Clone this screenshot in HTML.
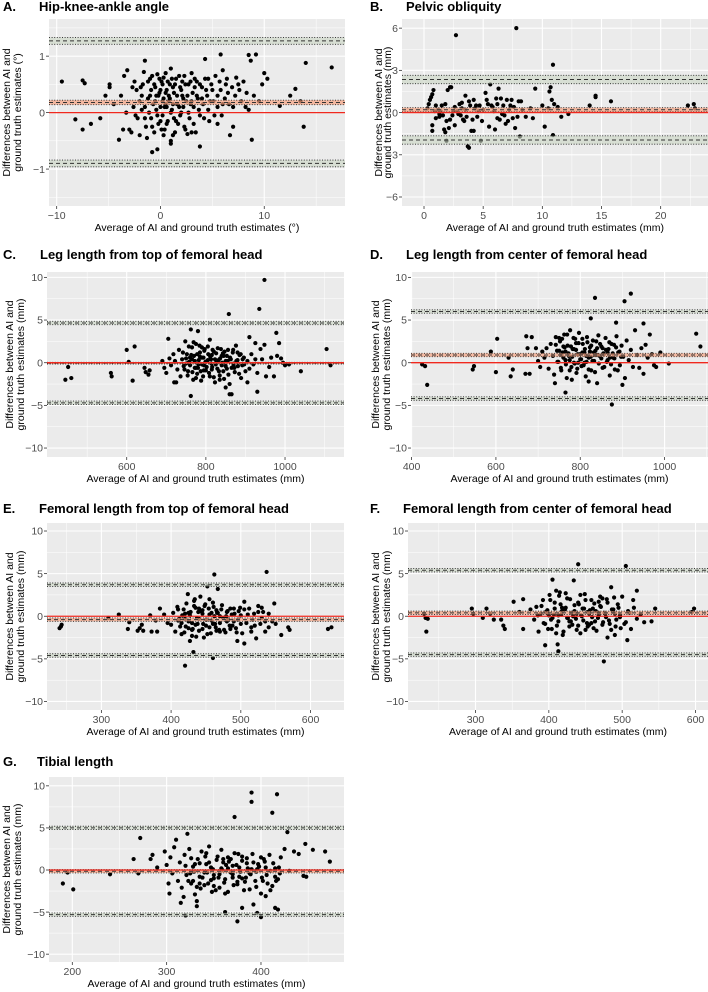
<!DOCTYPE html>
<html><head><meta charset="utf-8">
<style>
html,body{margin:0;padding:0;background:#fff;}
svg{display:block;font-family:"Liberation Sans",sans-serif;}
</style></head>
<body>
<svg id="fig" width="708" height="992" viewBox="0 0 708 992" xmlns="http://www.w3.org/2000/svg"></svg>
<script>
// ---- Data ----
const aPts=[[-9.5,0.55],[-7.5,0.57],[-7.3,0.52],[-8.2,-0.12],[-7.5,-0.3],[-6.7,-0.2],[-5.8,-0.1],[-5.3,0.3],[-4.9,0.5],[-4.9,0.45],[-4,-0.48],[-1.5,0.92],[-0.8,-0.7],[-0.3,-0.65],[4.3,0.95],[5.8,1.03],[8.5,1.02],[9.2,1.03],[8.7,0.92],[14,0.88],[16.5,0.8],[13.8,-0.25],[8.8,-0.48],[3.8,-0.6],[13,0.42],[13.5,0.2],[12.5,0.3],[11.5,0.12],[10,0.7],[10.3,0.6],[6.7,-0.4],[7,-0.25],[5.5,-0.2],[1,-0.5],[1,-0.55],
[-3.5,0.65],[-3.2,0.75],[-3,-0.3],[-2.8,-0.35],[-2.5,0.55],[-2.3,0.4],[-2.2,-0.1],[-2,-0.4],[-1.8,0.3],[-1.6,0.72],[-1.5,0.1],[-1.4,-0.25],[-1.2,0.55],[-1,0.3],[-0.9,-0.1],[-0.8,0.65],[-0.7,0.15],[-0.6,-0.35],[-0.5,0.45],[-0.4,0.05],[-0.3,0.68],[-0.2,-0.2],[-0.1,0.35],[0,0.1],[0.1,0.55],[0.2,-0.05],[0.3,0.25],[0.4,-0.3],[0.5,0.7],[0.6,0.4],[0.7,-0.15],[0.8,0.2],[0.9,0.5],[1,0.78],[1.1,0.05],[1.2,-0.4],[1.3,0.35],[1.5,0.6],[1.6,0.15],[1.7,-0.2],[1.9,0.45],[2,0.0],[2.1,0.3],[2.3,0.65],[2.4,-0.3],[2.5,0.2],[2.7,0.5],[2.8,-0.1],[3,0.7],[3.1,0.35],[3.2,0.1],[3.4,-0.35],[3.5,0.55],[3.6,0.25],[3.8,-0.05],[4,0.45],[4.1,0.15],[4.3,0.6],[4.5,0.3],[4.7,-0.15],[4.9,0.5],[5.1,0.2],[5.3,0.65],[5.5,0.1],[5.8,0.4],[6,0.75],[6.2,0.25],[6.4,0.6],[6.6,0.15],[6.9,0.45],[7.2,0.3],[7.5,0.5],[7.8,0.2],[8,0.55],[8.3,0.35],[8.5,0.05],[9,0.3],[9.5,0.2],[9.8,0.5],[-4.5,0.15],[-3.8,0.3],[-3.6,-0.3],[-2.6,0.1],[-1.3,-0.45],[0.3,-0.4],[1.4,-0.35],[2.6,-0.38],[3,-0.35],[-0.5,0.2],[0.8,0.3],[1.8,0.1],[2.2,0.25],[0,-0.15],[-1.8,0.05],[4.6,0.05],[5.9,-0.05],[3.3,0.45],[-0.2,0.3],[0.5,0.15],[1.2,0.45],[-1.1,0.0],[2.9,0.15],[0.2,0.5],[-2.4,-0.05],[6.3,0.5],[7.3,0.62],[-1.9,0.45]];
const aDense=[[-2,0.2],[-1.7,0.5],[-1.5,-0.1],[-1.2,0.25],[-1,0.6],[-0.8,-0.25],[-0.6,0.5],[-0.4,0.3],[-0.3,-0.05],[-0.1,0.6],[0,0.4],[0.1,-0.3],[0.2,0.2],[0.3,0.62],[0.4,0.1],[0.5,0.35],[0.6,-0.2],[0.7,0.55],[0.9,0.25],[1,0.0],[1.1,0.6],[1.2,0.15],[1.4,0.5],[1.5,-0.15],[1.6,0.3],[1.8,0.65],[1.9,-0.05],[2,0.4],[2.2,0.1],[2.3,-0.25],[2.4,0.5],[2.6,0.3],[2.7,0.0],[2.9,0.55],[3,0.2],[3.2,-0.2],[3.3,0.6],[3.5,0.3],[3.7,0.05],[3.8,0.5],[4,0.25],[4.2,-0.1],[4.4,0.4],[4.6,0.6],[4.8,0.2],[5,0.4],[5.2,-0.05],[5.5,0.3],[5.7,0.55],[6,0.15],[6.5,0.35],[7,0.1],[7.6,0.4],[8.2,0.1],[-2.7,0.45],[-3.3,0.0],[-0.9,0.4],[0.6,0.1],[1.3,-0.1],[2.1,0.55]];
const bPts=[[2.7,5.5],[7.8,6],[10.9,3.4],[0.3,0.3],[0.4,0.6],[0.5,0.9],[0.6,1.1],[0.7,1.3],[0.8,1.6],[0.7,-0.9],[0.7,-1.3],[1,-0.4],[1.2,0.2],[1.4,0.1],[1.5,0.5],[1.6,-0.2],[1.8,0.6],[1.9,-0.6],[2,1.6],[2.1,-1.1],[2.2,1.8],[2.3,1.8],[2.4,-0.2],[2.6,-0.9],[2.8,0.1],[3,0.6],[3.2,0.7],[3.3,-0.5],[3.5,1.2],[3.6,-0.3],[3.7,-2.4],[3.8,-2.5],[3.9,0.5],[4,-1.3],[4.2,-1.3],[4.3,0.3],[4.5,-0.3],[4.7,0.5],[4.9,-0.6],[5.2,1.4],[5.3,0.9],[5.5,-1],[5.6,2],[5.8,0.4],[6,-1.2],[6.1,1.0],[6.3,1.7],[6.4,-0.5],[6.5,1.0],[6.7,0.5],[6.9,-0.8],[7,0.9],[7.2,0.2],[7.4,0.9],[7.5,-0.4],[7.7,-1.1],[8,0.8],[8.1,-1.7],[8.2,0.8],[8.6,-0.3],[9.2,-0.4],[9.4,1.7],[10,0.5],[10.2,-1],[10.7,1.8],[10.6,1.5],[10.8,0.9],[10.9,-1.6],[11,0.6],[11.6,-0.3],[12.2,-0.1],[14,0.5],[14.5,1.1],[14.5,1.2],[15.8,0.8],[22.3,0.5],[22.8,0.6],[22.9,0.3],[5,0.2],[4.4,0.5],[3.1,-0.2],[2.5,0.1],[1.7,-1.2],[1.8,-1.4],[7.6,0.4],[6.8,-0.2],[8.3,0.2],[9,0.3],[5.9,0.1],[4.8,-2],[1.9,-2.0],[3.2,0.3],[3.4,-0.6],[2.9,-0.1],[6.2,0.6],[7.1,-0.6],[1.3,-0.1],[0.9,0.1],[10.5,0.3],[11.3,0.4]];
const bDense=[[1,0.5],[1.3,-0.3],[2.6,0.4],[3.5,0.2],[4.1,-0.5],[4.6,0.1],[5.4,0.6],[6.6,-0.1],[7.3,0.5],[3.8,0.8],[2.2,-0.5],[6.2,-0.4],[5.7,0.5],[7.9,-0.3],[4.2,0.9]];
const cPts=[[445,-2],[452,-0.5],[460,-1.8],[560,-1.2],[562,-1.6],[600,1.5],[605,0.1],[615,-2.1],[620,1.9],[645,-0.6],[648,-1.1],[655,-1.4],[658,-0.9],[705,2.8],[720,-2.3],[725,-2.3],[762,3.9],[762,-3.9],[858,5.7],[935,6.3],[948,9.7],[930,-3.4],[860,-3.7],[865,-3.7],[910,3.0],[978,3.5],[1105,1.6],[1115,-0.3],[1040,-1],[1010,-0.2],[1000,-0.3],[780,3.7],[905,-2.3],[850,-2.9],
[690,0.2],[695,-0.6],[700,-1.2],[708,0.5],[712,-0.3],[718,1.0],[722,0.2],[728,-0.8],[732,1.5],[736,-1.6],[740,0.4],[744,-0.4],[748,2.5],[752,1.0],[755,-1.0],[758,0.1],[765,1.8],[768,-2.0],[770,0.8],[772,-0.6],[775,2.2],[778,-1.3],[782,0.3],[785,1.2],[788,-2.1],[790,-0.2],[794,0.6],[797,1.6],[800,-0.9],[803,0.2],[806,1.0],[810,-1.6],[813,0.4],[816,-0.5],[820,1.3],[823,-2.3],[826,0.0],[830,1.7],[833,-1.0],[836,0.5],[840,-0.3],[843,1.1],[846,-1.9],[850,0.2],[853,-0.7],[856,1.5],[860,-2.5],[863,0.4],[868,1.2],[872,-0.6],[876,2.0],[880,0.3],[884,-1.3],[888,1.0],[892,-0.3],[896,0.6],[900,-1.0],[905,0.2],[910,-0.7],[915,1.0],[920,-0.2],[925,2.3],[930,-1.2],[938,1.6],[942,0.4],[948,2.1],[952,-1.6],[960,-0.5],[965,0.6],[972,-1.6],[980,0.8],[985,2.3],[990,0.5],[995,0.0],[760,0.6],[795,-0.3],[815,0.9],[845,0.8],[870,-0.1],[790,1.8],[810,2.7],[835,-1.5],[780,-0.6],[750,-0.1],[925,0.4]];
const cDense=[[742,1.2],[746,-0.8],[750,0.5],[754,-1.5],[757,1.9],[760,-0.3],[763,0.9],[766,-1.1],[769,2.4],[772,0.2],[775,-1.8],[778,1.0],[781,-0.2],[784,2.0],[787,-1.0],[790,0.6],[793,-1.6],[796,1.4],[799,0.1],[802,-0.5],[805,1.9],[808,-1.2],[811,0.7],[814,-0.1],[817,1.5],[820,-1.7],[823,0.4],[826,1.1],[829,-0.7],[832,0.3],[835,-2.0],[838,1.6],[841,0.0],[844,-1.0],[847,1.3],[850,-0.4],[853,0.8],[857,-1.4],[861,0.6],[865,-0.6],[869,1.5],[873,-1.1],[877,0.2],[881,-0.4],[885,0.9],[889,-1.8],[893,0.4],[897,-0.2],[755,0.0],[765,0.4],[775,-0.6],[785,0.7],[795,-0.9],[805,0.3],[815,-0.8],[825,-0.2],[840,0.8],[855,0.2],[870,-0.3],[880,1.2]];
const dPts=[[425,-0.2],[432,-0.4],[437,-2.6],[545,-0.8],[548,-0.4],[588,1.3],[600,-1.1],[603,2.8],[630,0.6],[635,-1.6],[640,-0.8],[672,3.1],[685,3.0],[835,7.6],[920,8.1],[905,7.2],[825,5.2],[765,-3.5],[875,-4.9],[900,-2.6],[1075,3.4],[1085,1.9],[1010,-0.1],[950,4.6],[885,4.7],[980,-0.5],[740,-2.4],[670,-1.3],[675,1.7],[680,-1.3],
[695,1.7],[700,0.2],[705,-0.5],[710,1.3],[715,0.6],[720,1.7],[725,-0.7],[730,2.2],[735,0.8],[738,-1.4],[742,3.0],[745,1.4],[748,0.1],[752,2.5],[755,-0.9],[758,1.2],[762,3.3],[765,0.3],[768,-1.8],[770,2.0],[773,0.8],[776,3.8],[779,-0.5],[782,1.6],[785,0.0],[788,2.8],[791,-1.2],[794,1.0],[797,3.5],[800,0.4],[803,-0.4],[806,2.2],[810,1.2],[813,-1.6],[816,3.0],[820,0.6],[823,1.8],[826,-0.9],[830,2.6],[833,0.2],[836,1.4],[840,-2.4],[843,3.2],[846,0.8],[850,1.9],[853,-0.6],[856,1.0],[860,2.9],[863,0.1],[867,1.6],[870,-1.5],[874,2.2],[878,0.6],[882,-0.8],[886,3.1],[890,1.2],[894,-0.3],[898,2.0],[902,0.7],[906,-1.8],[910,2.6],[915,0.3],[920,1.5],[925,-0.5],[930,3.8],[935,0.9],[940,-0.6],[945,1.7],[950,-1.3],[955,2.1],[960,0.6],[965,3.3],[970,1.0],[975,-0.3],[990,1.2],[760,1.9],[790,2.3],[810,0.0],[835,0.9],[780,-2.0],[750,2.9],[820,-2.2],[865,1.2]];
const dDense=[[742,2.1],[746,0.1],[750,1.4],[754,-0.6],[757,2.8],[760,0.6],[763,1.8],[766,-0.2],[769,3.3],[772,1.1],[775,-0.9],[778,1.9],[781,0.7],[784,2.9],[787,-0.1],[790,1.5],[793,-0.7],[796,2.3],[799,1.0],[802,0.4],[805,2.8],[808,-0.3],[811,1.6],[814,0.8],[817,2.4],[820,-0.8],[823,1.3],[826,2.0],[829,0.2],[832,1.2],[835,-1.1],[838,2.5],[841,0.9],[844,-0.1],[847,2.2],[850,0.5],[853,1.7],[857,-0.5],[861,1.5],[865,0.3],[869,2.4],[873,-0.2],[877,1.1],[881,0.5],[885,1.8],[889,-0.9],[893,1.3],[897,0.7],[755,0.9],[765,1.3],[775,0.3],[785,1.6],[795,0.0],[805,1.2],[815,0.1],[825,0.7],[840,1.7],[855,1.1],[870,0.6],[880,2.1]];
const ePts=[[240,-1.4],[242,-1.2],[243,-1],[310,-0.2],[325,0.2],[338,-1.5],[340,-0.7],[352,-1.7],[355,-1.4],[358,-1],[360,-1.7],[372,-1.8],[380,-1.8],[378,-0.5],[384,0.9],[420,-5.8],[432,-4.2],[462,4.9],[460,-4.9],[537,5.2],[467,3.2],[452,3.5],[625,-1.5],[630,-1.3],[570,-1.6],[568,-1.3],[558,-2.2],[548,1.5],[505,-3.2],[495,-2.9],[427,-2.9],[370,0.1],[390,0.2],[395,-0.8],
[400,-1.0],[403,0.4],[406,-1.8],[409,1.1],[412,-0.3],[415,-2.1],[418,0.8],[421,-1.2],[424,2.6],[427,0.1],[430,-0.8],[433,1.8],[436,-2.4],[439,0.5],[442,2.3],[445,-1.5],[448,1.2],[451,-0.4],[454,0.9],[457,-2.0],[460,1.6],[463,-0.9],[466,0.4],[469,-1.6],[472,0.8],[475,-0.2],[478,-1.9],[481,0.6],[484,-1.1],[487,0.2],[490,0.9],[493,-1.4],[496,-0.4],[499,1.0],[502,-2.0],[505,1.7],[508,-0.8],[512,0.9],[515,-1.3],[519,0.3],[522,-2.6],[525,1.2],[528,-0.9],[532,0.5],[535,-1.8],[540,0.3],[545,-0.6],[550,-0.9],[420,0.3],[430,-1.6],[440,-0.3],[450,-1.1],[455,2.0],[470,0.0],[480,-0.6],[445,0.7],[425,-1.4],[435,1.0],[465,-1.7],[410,-0.5],[500,0.1],[517,-0.4],[530,1.0],[438,-0.9],[458,0.4]];
const eDense=[[410,0.8],[413,-1.2],[416,0.1],[419,-1.9],[422,1.5],[425,-0.6],[428,0.5],[431,-1.5],[434,2.0],[437,-0.2],[440,-1.7],[443,0.6],[446,-0.9],[449,1.4],[452,-2.1],[455,0.2],[458,-0.5],[461,1.1],[464,-1.3],[467,0.4],[470,-0.8],[473,1.3],[476,-1.6],[479,0.0],[482,-0.4],[485,0.9],[488,-1.1],[491,0.3],[494,-1.9],[497,0.6],[415,-0.8],[425,0.4],[435,-1.0],[445,0.3],[455,-1.3],[465,0.7],[475,-0.2],[485,-1.5],[420,-0.3],[440,0.9],[460,-0.9],[480,0.5],[430,-2.3],[450,-0.4],[470,-1.8],[490,-0.6],[433,1.2],[447,-2.5],[462,0.0],[500,-0.9],[510,0.2],[520,-1.1],[530,-0.2],[540,-1.3],[505,0.8],[515,-1.8],[525,0.5],[535,-0.6]];
const fPts=[[230,0.3],[232,-0.2],[235,-0.3],[233,-1.8],[295,0.9],[297,0.3],[310,-0.2],[315,0.9],[320,0.3],[325,-0.4],[335,-0.4],[338,-1.1],[340,-1.5],[352,1.7],[360,0.5],[365,2.0],[365,-1.5],[395,-3.4],[405,4.3],[412,-3.3],[413,-4.1],[440,6.1],[505,5.9],[507,-2.8],[475,-5.3],[520,3.0],[540,-0.6],[545,0.9],[595,0.5],[598,0.9],[480,-2.5],[490,-2.2],[375,0.8],[380,-0.4],
[383,1.1],[386,-1.8],[389,0.3],[392,1.9],[395,-0.9],[398,0.7],[401,2.5],[404,-1.5],[407,0.2],[410,3.0],[413,-0.6],[416,1.4],[419,-2.2],[422,0.8],[425,2.1],[428,-1.2],[431,0.4],[434,4.2],[437,-0.3],[440,1.6],[443,-2.0],[446,0.9],[449,2.6],[452,-0.8],[455,0.3],[458,1.9],[461,-1.4],[464,0.6],[467,-0.2],[470,1.2],[473,-1.0],[476,0.4],[479,2.0],[482,-0.5],[485,3.4],[488,0.8],[491,-1.2],[494,1.4],[497,-0.1],[500,2.3],[503,-0.9],[508,0.6],[512,-1.5],[516,1.0],[520,-0.3],[525,0.2],[530,-0.7],[400,0.1],[418,1.0],[430,-0.6],[445,0.0],[460,0.9],[425,-0.2],[450,-1.6],[470,2.3],[410,-2.0],[435,1.3],[455,-1.0],[490,0.3],[415,2.8],[440,-1.1],[498,-1.4],[468,0.1]];
const fDense=[[390,1.2],[393,-0.8],[396,0.5],[399,-1.5],[402,1.9],[405,-0.2],[408,0.9],[411,-1.1],[414,2.4],[417,0.2],[420,-1.8],[423,1.0],[426,-0.2],[429,2.0],[432,-1.0],[435,0.6],[438,-1.6],[441,1.4],[444,0.1],[447,-0.5],[450,1.9],[453,-1.2],[456,0.7],[459,-0.1],[462,1.5],[465,-1.7],[468,0.4],[471,1.1],[474,-0.7],[477,0.3],[480,1.6],[483,-0.9],[486,0.8],[489,2.2],[492,-0.4],[495,1.0],[398,0.4],[408,1.6],[418,0.6],[428,-0.6],[438,0.3],[448,0.9],[458,-0.8],[468,1.7],[478,-0.1],[488,0.5],[403,-0.4],[413,0.1],[423,2.7],[433,0.0],[443,2.5],[453,0.5],[463,-0.6],[473,2.1],[485,-1.6],[497,0.1],[510,0.4],[515,1.9],[505,-0.7],[385,0.1]];
const gPts=[[190,-1.6],[195,-0.3],[201,-2.3],[240,-0.5],[265,1.3],[272,3.8],[270,-0.4],[283,1.3],[285,1.8],[290,0.3],[298,2.2],[302,-1.6],[303,-2.8],[310,3.6],[315,-3.9],[318,-3.2],[322,4.3],[320,-5.4],[332,-4.3],[332,-3.7],[372,6.3],[390,9.2],[390,8.1],[412,6.8],[417,9.0],[375,-6.1],[380,-4.5],[362,-5],[392,-4.1],[396,-5.1],[400,-5.6],[415,-4.5],[418,-4.7],[428,4.5],[447,3.1],[455,2.4],[468,2.2],[473,1.0],[435,2.2],[445,-0.7],[448,-0.8],[440,1.9],[430,-0.1],[425,2.5],
[300,0.6],[304,1.5],[306,-0.4],[308,2.7],[312,-1.3],[314,0.9],[316,-2.1],[319,1.8],[321,-0.6],[324,2.5],[326,-1.6],[328,0.4],[330,-2.9],[333,1.3],[335,-0.8],[337,2.2],[340,-1.8],[342,0.7],[345,2.8],[347,-1.2],[349,0.1],[352,-2.4],[354,1.6],[356,-0.5],[358,2.4],[361,-1.5],[363,0.6],[365,-2.6],[368,1.3],[370,-0.9],[372,2.0],[375,-1.7],[377,0.3],[380,1.6],[382,-2.4],[385,0.8],[388,-0.4],[391,1.9],[394,-1.3],[397,0.7],[400,-2.8],[403,1.3],[406,-0.6],[409,1.8],[412,-1.9],[415,0.2],[418,-1.1],[421,1.5],[343,-0.3],[358,0.2],[366,1.0],[384,-0.9],[396,0.1],[350,-1.0],[328,-1.3],[360,0.9],[378,-0.2],[405,-3.1],[336,-2.2],[370,0.5]];
const gDense=[[320,0.5],[323,-1.3],[326,1.4],[329,-0.2],[332,-2.0],[335,0.8],[338,-0.9],[341,1.6],[344,-1.6],[347,0.3],[350,-0.6],[353,1.2],[356,-2.1],[359,0.0],[362,-1.1],[365,1.5],[368,-0.3],[371,-1.8],[374,0.6],[377,-0.8],[380,1.1],[383,-1.4],[386,0.2],[389,-0.5],[392,0.9],[395,-2.0],[398,0.4],[401,-0.9],[404,1.0],[407,-1.6],[410,-0.1],[413,0.8],[416,-1.3],[419,0.3],[325,-0.4],[335,-1.6],[345,0.9],[355,-0.9],[365,0.2],[375,-1.4],[385,1.4],[395,-0.2],[405,0.3],[415,-0.8],[330,0.7],[340,-0.3],[350,-1.9],[360,1.3],[370,-0.5],[380,-1.0],[390,0.1],[400,1.5],[410,-2.4],[420,-0.4],[348,-2.6],[362,-2.8],[376,1.9],[388,-2.3],[402,-1.3],[342,2.0]];

// ---- Panel specs ----
const panels=[
 {id:'a',letter:'A.',title:'Hip-knee-ankle angle',pts:aPts.concat(aDense),L:49,R:345,T:19,B:206,x0:-10.74,x1:17.78,y0:-1.654,y1:1.658,
  xt:[-10,0,10],xm:[-5,5,15],yt:[-1,0,1],ym:[-1.5,-0.5,0.5,1.5],mean:[0.14,0.18,0.22],up:[1.21,1.27,1.33],lo:[-0.96,-0.90,-0.84],
  xlab:'Average of AI and ground truth estimates (°)',ylab2:'ground truth estimates (°)',yt1:7,yt2:18,lx:3,tx:39,ty:11},
 {id:'b',letter:'B.',title:'Pelvic obliquity',pts:bPts.concat(bDense),L:402,R:708,T:19,B:206,x0:-1.86,x1:24.0,y0:-6.64,y1:6.65,
  xt:[0,5,10,15,20],xm:[2.5,7.5,12.5,17.5,22.5],yt:[-6,-3,0,3,6],ym:[-4.5,-1.5,1.5,4.5],mean:[0.05,0.2,0.35],up:[2.05,2.35,2.65],lo:[-2.25,-1.95,-1.65],
  xlab:'Average of AI and ground truth estimates (mm)',ylab2:'ground truth estimates (mm)',yt1:379,yt2:388,lx:370,tx:406,ty:11},
 {id:'c',letter:'C.',title:'Leg length from top of femoral head',pts:cPts.concat(cDense),L:47,R:344,T:272,B:457,x0:398.6,x1:1149,y0:-11.05,y1:10.63,
  xt:[600,800,1000],xm:[500,700,900,1100],yt:[-10,-5,0,5,10],ym:[-7.5,-2.5,2.5,7.5],mean:[-0.15,-0.05,0.05],up:[4.45,4.65,4.85],lo:[-4.9,-4.7,-4.5],
  xlab:'Average of AI and ground truth estimates (mm)',ylab2:'ground truth estimates (mm)',yt1:10,yt2:21,lx:3,tx:40,ty:259},
 {id:'d',letter:'D.',title:'Leg length from center of femoral head',pts:dPts.concat(dDense),L:411,R:708,T:272,B:457,x0:398.6,x1:1103,y0:-11.05,y1:10.63,
  xt:[400,600,800,1000],xm:[500,700,900,1100],yt:[-10,-5,0,5,10],ym:[-7.5,-2.5,2.5,7.5],mean:[0.7,0.9,1.1],up:[5.8,6.0,6.2],lo:[-4.4,-4.2,-4.0],
  xlab:'Average of AI and ground truth estimates (mm)',ylab2:'ground truth estimates (mm)',yt1:376,yt2:387,lx:370,tx:406,ty:259},
 {id:'e',letter:'E.',title:'Femoral length from top of femoral head',pts:ePts.concat(eDense),L:47,R:344,T:523,B:710,x0:222,x1:648,y0:-11.0,y1:10.94,
  xt:[300,400,500,600],xm:[250,350,450,550,650],yt:[-10,-5,0,5,10],ym:[-7.5,-2.5,2.5,7.5],mean:[-0.6,-0.4,-0.2],up:[3.5,3.7,3.9],lo:[-4.8,-4.6,-4.4],
  xlab:'Average of AI and ground truth estimates (mm)',ylab2:'ground truth estimates (mm)',yt1:10,yt2:21,lx:3,tx:39,ty:513},
 {id:'f',letter:'F.',title:'Femoral length from center of femoral head',pts:fPts.concat(fDense),L:408,R:708,T:523,B:710,x0:208,x1:617,y0:-11.0,y1:10.94,
  xt:[300,400,500,600],xm:[250,350,450,550],yt:[-10,-5,0,5,10],ym:[-7.5,-2.5,2.5,7.5],mean:[0.2,0.4,0.6],up:[5.2,5.4,5.6],lo:[-4.7,-4.5,-4.3],
  xlab:'Average of AI and ground truth estimates (mm)',ylab2:'ground truth estimates (mm)',yt1:376,yt2:387,lx:370,tx:403,ty:513},
 {id:'g',letter:'G.',title:'Tibial length',pts:gPts.concat(gDense),L:49,R:344,T:777,B:962,x0:175.3,x1:488,y0:-10.93,y1:11.05,
  xt:[200,300,400],xm:[250,350,450],yt:[-10,-5,0,5,10],ym:[-7.5,-2.5,2.5,7.5],mean:[-0.35,-0.15,0.05],up:[4.8,5.0,5.2],lo:[-5.5,-5.3,-5.1],
  xlab:'Average of AI and ground truth estimates (mm)',ylab2:'ground truth estimates (mm)',yt1:7,yt2:18,lx:3,tx:37,ty:766}
];

const NS='http://www.w3.org/2000/svg';
const svg=document.getElementById('fig');
function mk(tag,attrs,parent){const e=document.createElementNS(NS,tag);for(const k in attrs)e.setAttribute(k,attrs[k]);(parent||svg).appendChild(e);return e;}

panels.forEach(p=>{
  const g=mk('g',{});
  
  
  const sx=v=>p.L+(v-p.x0)/(p.x1-p.x0)*(p.R-p.L);
  const sy=v=>p.B-(v-p.y0)/(p.y1-p.y0)*(p.B-p.T);
  const bg=mk('rect',{x:p.L,y:p.T,width:p.R-p.L,height:p.B-p.T,fill:'#ebebeb'},g);
  
  
  p.xm.forEach(v=>{const x=sx(v);if(x>p.L&&x<p.R)mk('line',{x1:x,x2:x,y1:p.T,y2:p.B,stroke:'#fff','stroke-width':0.5},g);});
  p.ym.forEach(v=>{const y=sy(v);mk('line',{x1:p.L,x2:p.R,y1:y,y2:y,stroke:'#fff','stroke-width':0.5},g);});
  p.xt.forEach(v=>{const x=sx(v);mk('line',{x1:x,x2:x,y1:p.T,y2:p.B,stroke:'#fff','stroke-width':1.1},g);
    mk('line',{x1:x,x2:x,y1:p.B,y2:p.B+3,stroke:'#333','stroke-width':0.8},g);
    const t=mk('text',{x:x,y:p.B+13,'text-anchor':'middle','font-size':10.5,fill:'#4d4d4d'},g);t.textContent=String(v).replace('-','\u2212');
    
    });
  p.yt.forEach(v=>{const y=sy(v);mk('line',{x1:p.L,x2:p.R,y1:y,y2:y,stroke:'#fff','stroke-width':1.1},g);
    mk('line',{x1:p.L-3,x2:p.L,y1:y,y2:y,stroke:'#333','stroke-width':0.8},g);
    const t=mk('text',{x:p.L-4,y:y+3.7,'text-anchor':'end','font-size':10.5,fill:'#4d4d4d'},g);t.textContent=String(v).replace('-','\u2212');
    
    });
  const pg=mk('g',{},g);
  
  
  p.pts.forEach(d=>{const c=mk('circle',{cx:sx(d[0]),cy:sy(d[1]),r:2.1,fill:'#000'},pg);
    
    });
  [[p.up,'#c9d6c3','upper-loa',0.6],[p.lo,'#c9d6c3','lower-loa',0.6],[p.mean,'#f7a17f','mean-difference',0.7]].forEach(([b,col,nm,op])=>{
    const y1=sy(b[2]),y2=sy(b[0]);
    const r=mk('rect',{x:p.L,y:y1,width:p.R-p.L,height:Math.max(y2-y1,1),fill:col,'fill-opacity':op},g);
    
    
    [b[0],b[2]].forEach(v=>mk('line',{x1:p.L,x2:p.R,y1:sy(v),y2:sy(v),stroke:'#222','stroke-width':0.9,'stroke-dasharray':'1,1.6'},g));
    const l=mk('line',{x1:p.L,x2:p.R,y1:sy(b[1]),y2:sy(b[1]),stroke:'#333','stroke-width':1,'stroke-dasharray':'4,3'},g);
    
    
  });
  const z=mk('line',{x1:p.L,x2:p.R,y1:sy(0),y2:sy(0),stroke:'#f0281e','stroke-width':1.3},g);
  
  
  const lt=mk('text',{x:p.lx,y:p.ty,'font-size':13,'font-weight':'bold',fill:'#000'},g);lt.textContent=p.letter;
  
  
  const tt=mk('text',{x:p.tx,y:p.ty,'font-size':13,'font-weight':'bold',fill:'#000'},g);tt.textContent=p.title;
  
  
  const xl=mk('text',{x:(p.L+p.R)/2,y:p.B+25,'text-anchor':'middle','font-size':10.5,fill:'#000'},g);xl.textContent=p.xlab;
  
  
  const cy=(p.T+p.B)/2;
  const y1=mk('text',{x:p.yt1,y:cy,'text-anchor':'middle','font-size':10.5,fill:'#000',transform:`rotate(-90 ${p.yt1} ${cy})`,'dominant-baseline':'central'},g);y1.textContent='Differences between AI and';
  
  
  const y2=mk('text',{x:p.yt2,y:cy,'text-anchor':'middle','font-size':10.5,fill:'#000',transform:`rotate(-90 ${p.yt2} ${cy})`,'dominant-baseline':'central'},g);y2.textContent=p.ylab2;
  
  
});
</script>
</body></html>
